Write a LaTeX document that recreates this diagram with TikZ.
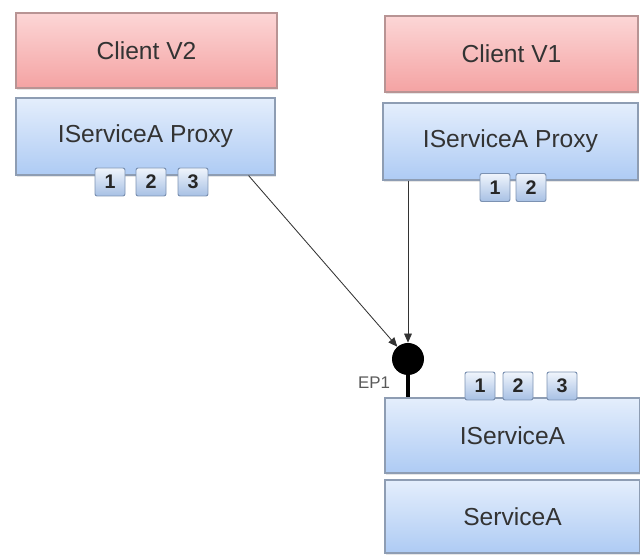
\documentclass[tikz,border=0pt]{standalone}
\usepackage{fontspec}
\setmainfont{Liberation Sans}
\usetikzlibrary{arrows.meta, shadows}

\definecolor{clientTop}{HTML}{FCD6D6}
\definecolor{clientBot}{HTML}{F4A3A3}
\definecolor{clientLine}{HTML}{B89494}
\definecolor{ifaceTop}{HTML}{E4EEFC}
\definecolor{ifaceBot}{HTML}{AECBF4}
\definecolor{ifaceLine}{HTML}{8E9DB3}
\definecolor{badgeTop}{HTML}{F0F5FC}
\definecolor{badgeBot}{HTML}{A7C0E4}
\definecolor{badgeLine}{HTML}{7C92B2}
\definecolor{labelText}{HTML}{333333}

\tikzset{
  box/.style={rectangle, draw, line width=0.8pt, text=labelText,
    font=\fontsize{17.5}{20}\selectfont,
    drop shadow={opacity=0.2, shadow xshift=1pt, shadow yshift=-1.2pt}},
  clientbox/.style={box, draw=clientLine, top color=clientTop, bottom color=clientBot},
  ifacebox/.style={box, draw=ifaceLine, top color=ifaceTop, bottom color=ifaceBot},
  badge/.style={rectangle, rounded corners=1.5pt, draw=badgeLine, line width=0.7pt,
    top color=badgeTop, bottom color=badgeBot, text=black!85,
    font=\fontsize{14}{15}\selectfont\bfseries,
    minimum width=30*\u, minimum height=28*\u, inner sep=0pt},
  link/.style={-{Triangle[length=6.5pt, width=5.5pt]}, line width=0.6pt, black!80},
}

\begin{document}
\begin{tikzpicture}[x=0.025cm, y=-0.025cm]
    % ================= Parameters =================
    \def\u{0.025cm}    % one pixel of the canvas

    \path[use as bounding box] (0,0) rectangle (640,556);

    % ================= Client V2 (left) =================
    \node[clientbox, minimum width=261*\u, minimum height=75*\u] (clientB) at (146.5,50.5) {Client V2};
    \node[ifacebox, minimum width=259*\u, minimum height=77*\u] (proxyB) at (145.5,136.5) {IServiceA Proxy};
    \node[badge] (proxyB1) at (110,182) {1};
    \node[badge] (proxyB2) at (151,182) {2};
    \node[badge] (proxyB3) at (193,182) {3};

    % ================= Client V1 (right) =================
    \node[clientbox, minimum width=253*\u, minimum height=76*\u] (clientA) at (511.5,54) {Client V1};
    \node[ifacebox, minimum width=255*\u, minimum height=77*\u] (proxyA) at (510.5,141.5) {IServiceA Proxy};
    \node[badge] (proxyA1) at (495,187.5) {1};
    \node[badge] (proxyA2) at (531,187.5) {2};

    % ================= Service =================
    \node[ifacebox, minimum width=255*\u, minimum height=75*\u] (iface) at (512.5,435.5) {IServiceA};
    \node[ifacebox, minimum width=255*\u, minimum height=73*\u] (svc) at (512.5,516.5) {ServiceA};
    \node[badge] (iface1) at (480,386) {1};
    \node[badge] (iface2) at (518,386) {2};
    \node[badge] (iface3) at (562,386) {3};

    % ================= Endpoint =================
    \node[circle, fill=black, minimum size=32*\u, inner sep=0pt] (ep) at (408,359) {};
    \draw[line width=2.8pt] (ep.south) -- (ep.south |- iface.north)
        node[pos=0.35, left=8pt, text=black!65, font=\fontsize{12}{13}\selectfont] {EP1};

    % ================= Calls =================
    \coordinate (fromB) at ([xshift=-27*\u]proxyB.south east);
    \coordinate (fromA) at (proxyA.south west -| ep.north);
    \draw[link] (fromB) -- (ep);
    \draw[link] (fromA) -- (ep.north);
\end{tikzpicture}
\end{document}
